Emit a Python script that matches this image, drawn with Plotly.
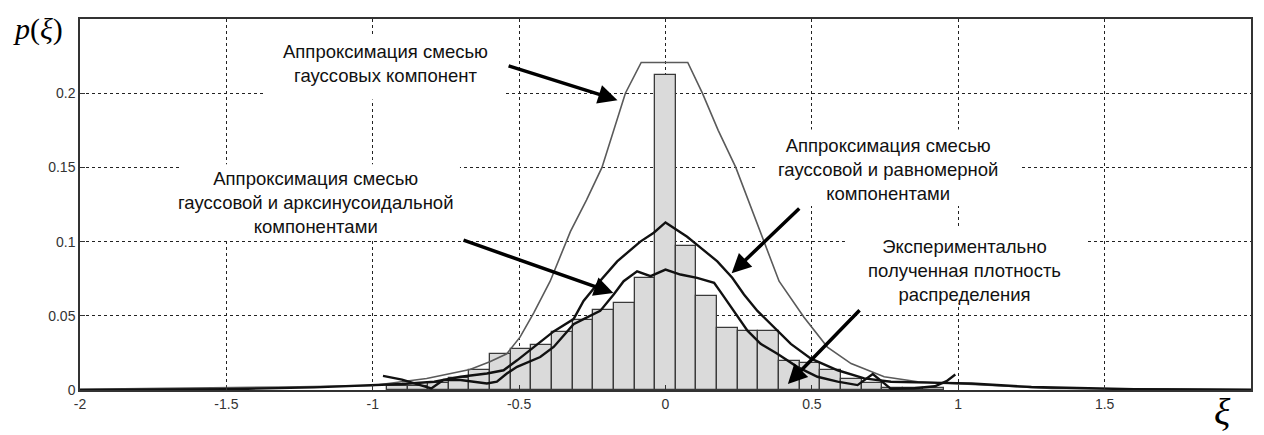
import plotly.graph_objects as go

# ---------------- data ----------------
bin_width = 0.0705
bin_index = list(range(-13, 14))
bar_heights = [0.0027, 0.0027, 0.0045, 0.0078, 0.0136, 0.0245, 0.0278, 0.0300, 0.0390,
               0.0470, 0.0538, 0.0589, 0.0758, 0.2125, 0.0973, 0.0636, 0.0416, 0.0400,
               0.0400, 0.0195, 0.0184, 0.0138, 0.0073, 0.0044, 0.0012, 0.0015, 0.0015]

gauss_x = [-2.0, -1.7, -1.3, -1.0, -0.93, -0.816, -0.668, -0.6, -0.542, -0.497, -0.45,
           -0.394, -0.325, -0.27, -0.217, -0.137, -0.083, 0.076, 0.126, 0.18, 0.24, 0.325,
           0.388, 0.473, 0.553, 0.634, 0.747, 0.862, 1.09, 1.32, 1.7, 2.0]
gauss_y = [0.0005, 0.001, 0.002, 0.003, 0.0047, 0.0078, 0.0138, 0.019, 0.0244, 0.0356, 0.052,
           0.0733, 0.1067, 0.128, 0.15, 0.2, 0.2207, 0.2207, 0.2, 0.175, 0.15, 0.1067,
           0.0733, 0.049, 0.0289, 0.0178, 0.0089, 0.0056, 0.0033, 0.001, 0.0008, 0.0005]

unif_x = [-2.0, -1.5, -1.2, -1.0, -0.9, -0.79, -0.70, -0.61, -0.553, -0.507, -0.45, -0.382,
          -0.314, -0.28, -0.234, -0.165, -0.086, -0.04, 0.0, 0.074, 0.108, 0.177, 0.228,
          0.268, 0.314, 0.371, 0.428, 0.497, 0.588, 0.679, 0.77, 0.9, 1.045, 1.25, 1.6, 2.0]
unif_y = [0.0, 0.0005, 0.0018, 0.003, 0.004, 0.0056, 0.0089, 0.0111, 0.0133, 0.02, 0.0289,
          0.0395, 0.0478, 0.06, 0.0711, 0.0867, 0.1, 0.106, 0.1129, 0.1033, 0.0978, 0.0867,
          0.0756, 0.0644, 0.0533, 0.042, 0.0311, 0.0211, 0.0133, 0.0078, 0.0056, 0.005,
          0.0044, 0.002, 0.0005, 0.0]

arcs_x = [-0.965, -0.9, -0.8, -0.759, -0.70, -0.61, -0.576, -0.542, -0.507, -0.428, -0.382,
          -0.314, -0.268, -0.223, -0.177, -0.143, -0.097, -0.051, 0.0, 0.051, 0.108, 0.166,
          0.194, 0.234, 0.28, 0.325, 0.382, 0.45, 0.519, 0.588, 0.656, 0.708, 0.747, 0.77,
          0.85, 0.92, 0.96, 0.99]
arcs_y = [0.0095, 0.007, 0.001, 0.0067, 0.0067, 0.0044, 0.0056, 0.0111, 0.0156, 0.0222, 0.029,
          0.0444, 0.0489, 0.0533, 0.0644, 0.0733, 0.08, 0.0767, 0.0811, 0.0778, 0.0756, 0.0722,
          0.0644, 0.0533, 0.04, 0.0311, 0.0244, 0.0156, 0.0089, 0.0056, 0.0033, 0.0107, 0.0044,
          0.0008, 0.0012, 0.0025, 0.006, 0.0104]

x_ticks = [-2, -1.5, -1, -0.5, 0, 0.5, 1, 1.5]
x_tick_text = ["-2", "-1.5", "-1", "-0.5", "0", "0.5", "1", "1.5"]
y_ticks = [0, 0.05, 0.1, 0.15, 0.2]
y_tick_text = ["0", "0.05", "0.1", "0.15", "0.2"]

labels = [
    "Аппроксимация смесью<br>гауссовых компонент",
    "Аппроксимация смесью<br>гауссовой и арксинусоидальной<br>компонентами",
    "Аппроксимация смесью<br>гауссовой и равномерной<br>компонентами",
    "Экспериментально<br>полученная плотность<br>распределения",
]
label_pos = [(-0.958, 0.2198), (-1.194, 0.1262), (0.760, 0.1488), (1.023, 0.0804)]
label_boxes = [(-1.368, -0.548, 0.1957, 0.2399), (-1.658, -0.702, 0.1025, 0.1521),
               (0.306, 1.211, 0.124, 0.1756), (0.613, 1.433, 0.0583, 0.1086)]
arrows = [((-0.541, 0.2187), (-0.164, 0.1953)),
          ((-0.695, 0.1013), (-0.178, 0.0653)),
          ((0.462, 0.1233), (0.226, 0.0787)),
          ((0.668, 0.0547), (0.418, 0.0040))]

# ---------------- figure ----------------
fig = go.Figure()

fig.add_trace(go.Bar(
    x=[k * bin_width for k in bin_index], y=bar_heights, width=bin_width,
    marker=dict(color="#dadada", line=dict(color="#3a3a3a", width=1.3)),
    showlegend=False, hoverinfo="skip"))

fig.add_trace(go.Scatter(x=gauss_x, y=gauss_y, mode="lines",
                         line=dict(color="#5a5a5a", width=1.6), showlegend=False))
fig.add_trace(go.Scatter(x=unif_x, y=unif_y, mode="lines",
                         line=dict(color="#111111", width=2.4), showlegend=False))
fig.add_trace(go.Scatter(x=arcs_x, y=arcs_y, mode="lines",
                         line=dict(color="#111111", width=2.4), showlegend=False))

for (x0, x1, y0, y1) in label_boxes:
    fig.add_shape(type="rect", xref="x", yref="y", x0=x0, x1=x1, y0=y0, y1=y1,
                  fillcolor="white", line=dict(width=0), layer="between")

for txt, (lx, ly) in zip(labels, label_pos):
    fig.add_annotation(x=lx, y=ly, xref="x", yref="y", text=txt, showarrow=False,
                       xanchor="center", yanchor="middle",
                       font=dict(family="Liberation Sans, Arial", size=18.5, color="#111"),
                       align="center")

for (tail, tip) in arrows:
    fig.add_annotation(x=tip[0], y=tip[1], xref="x", yref="y",
                       ax=tail[0], ay=tail[1], axref="x", ayref="y",
                       text="", showarrow=True, arrowhead=2, arrowsize=1.1,
                       arrowwidth=3.5, arrowcolor="black", standoff=0)

fig.add_annotation(xref="paper", yref="paper", x=-0.036, y=0.972,
                   xanchor="center", yanchor="middle",
                   text="<i>p</i>(<i>ξ</i>)", showarrow=False,
                   font=dict(family="Liberation Serif, Times New Roman", size=30, color="black"))
fig.add_annotation(xref="paper", yref="paper", x=0.976, y=-0.06,
                   xanchor="center", yanchor="middle",
                   text="<i>ξ</i>", showarrow=False,
                   font=dict(family="Liberation Serif, Times New Roman", size=38, color="black"))

axis_common = dict(showgrid=True, gridcolor="#222", gridwidth=1, griddash="3px,3px",
                   showline=True, linecolor="#333", linewidth=1.5, mirror=True,
                   zeroline=False, ticks="inside", ticklen=5, tickcolor="#333",
                   tickfont=dict(family="Liberation Sans, Arial", size=14, color="#333"))

fig.update_xaxes(range=[-2, 2], tickvals=x_ticks, ticktext=x_tick_text, **axis_common)
fig.update_yaxes(range=[0, 0.25], tickvals=y_ticks, ticktext=y_tick_text, **axis_common)

# the page adds an 8px body margin; margins below compensate for it
fig.update_layout(width=1256, height=427, margin=dict(l=72, r=13, t=9, b=45),
                  plot_bgcolor="white", paper_bgcolor="white", bargap=0)

fig.write_html("out.html")
